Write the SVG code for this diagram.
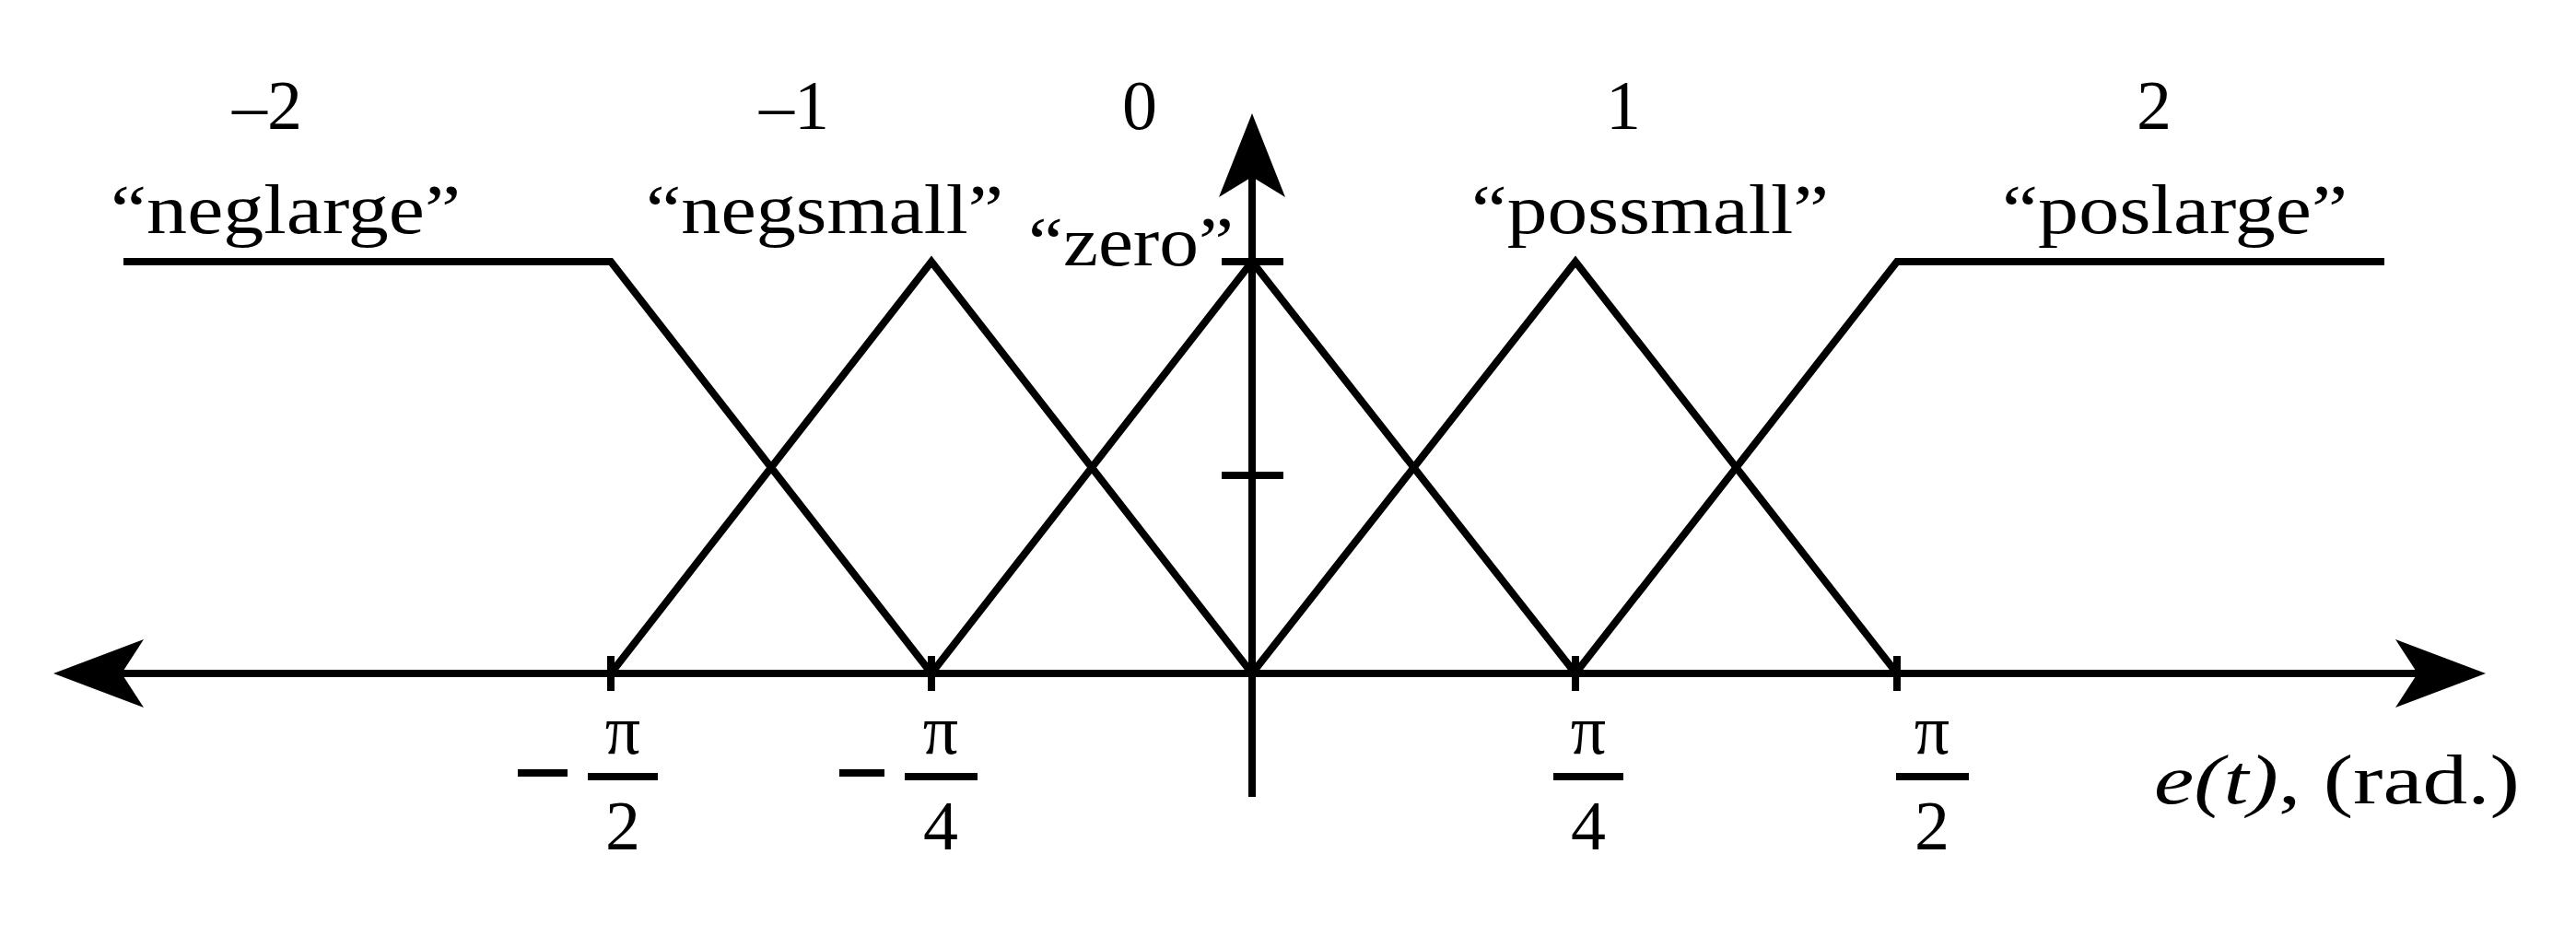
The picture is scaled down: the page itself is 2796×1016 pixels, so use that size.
<svg xmlns="http://www.w3.org/2000/svg" width="2796" height="1016" viewBox="0 0 2796 1016">
<style>
.l{fill:none;stroke:#000;stroke-width:8;stroke-linejoin:miter}
.t{font-family:"Liberation Serif",serif;font-size:76px;fill:#000}
.m{text-anchor:middle}
</style>
<rect width="2796" height="1016" fill="#fff"/>
<g id="axes">
<path class="l" d="M120 731H2640M1359 190V865"/>
<path d="M58 731L156 694L132 731L156 768Z M2698 731L2600 694L2624 731L2600 768Z M1359 123L1323 214L1359 192L1395 214Z" fill="#000"/>
<path class="l" d="M1326 284H1393M1326 516H1393M663 712V750M1011 712V750M1710 712V750M2059 712V750"/>
</g>
<g id="connectors">
<polyline id="neglarge" class="l" points="134,284 663,284 1011,731"/>
<polyline id="negsmall" class="l" points="663,731 1011,284 1359,731"/>
<polyline id="zero" class="l" points="1011,731 1359,284 1710,731"/>
<polyline id="possmall" class="l" points="1359,731 1710,284 2059,731"/>
<polyline id="poslarge" class="l" points="1710,731 2059,284 2588,284"/>
</g>
<g id="labels">
<text class="t m" x="290" y="140">–2</text>
<text class="t m" x="862" y="140">–1</text>
<text class="t m" x="1237" y="140">0</text>
<text class="t m" x="1762" y="140">1</text>
<text class="t m" x="2338" y="140">2</text>
<text class="t" x="120" y="253" textLength="380" lengthAdjust="spacingAndGlyphs">“neglarge”</text>
<text class="t" x="701" y="253" textLength="388" lengthAdjust="spacingAndGlyphs">“negsmall”</text>
<text class="t" x="1116" y="288" textLength="223" lengthAdjust="spacingAndGlyphs">“zero”</text>
<text class="t" x="1597" y="253" textLength="388" lengthAdjust="spacingAndGlyphs">“possmall”</text>
<text class="t" x="2173" y="253" textLength="375" lengthAdjust="spacingAndGlyphs">“poslarge”</text>
</g>
<g id="ticklabels">
<path class="l" d="M562 839H616M638 843H714M911 839H960M982 843H1061M1686 843H1762M2058 843H2137"/>
<text class="t m" x="676" y="818">π</text><text class="t m" x="676" y="922">2</text>
<text class="t m" x="1021" y="818">π</text><text class="t m" x="1021" y="922">4</text>
<text class="t m" x="1724" y="818">π</text><text class="t m" x="1724" y="922">4</text>
<text class="t m" x="2097" y="818">π</text><text class="t m" x="2097" y="922">2</text>
<text class="t" x="2338" y="872" textLength="397" lengthAdjust="spacingAndGlyphs"><tspan font-style="italic">e(t)</tspan>, (rad.)</text>
</g>
</svg>
